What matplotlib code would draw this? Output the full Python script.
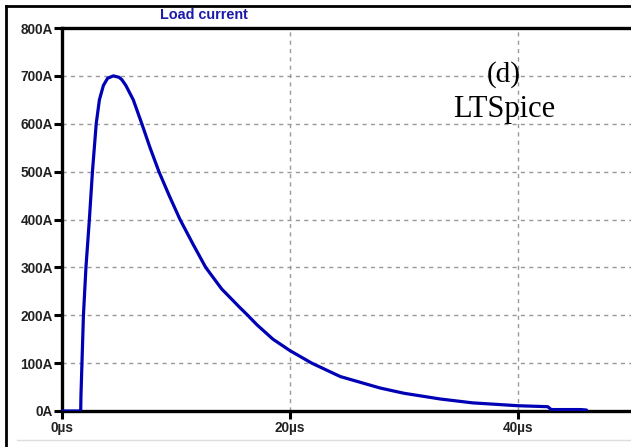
import numpy as np
import matplotlib.pyplot as plt
from matplotlib.lines import Line2D

# load current waveform
t_us = [0, 1.64, 1.66, 1.75, 1.88, 2.1, 2.4, 2.67, 3.0, 3.28, 3.63, 4.0, 4.5,
        5.0, 5.25, 5.6, 6.25, 7.0, 7.72, 8.5, 9.4, 10.35, 11.5, 12.6, 14.0,
        15.6, 16.2, 17.1, 18.5, 20.0, 21.9, 24.4, 27.9, 30.0, 33.2, 36.0,
        40.0, 42.6, 42.9, 45.5, 46.0]
i_amp = [0, 0, 30, 100, 200, 300, 400, 500, 600, 650, 680, 695, 700,
         697, 692, 680, 650, 600, 550, 500, 450, 400, 348, 300, 255,
         216, 202, 180, 150, 126, 100, 72, 48, 37, 25, 17,
         11, 9, 3, 3, 2]

yticks = [0, 100, 200, 300, 400, 500, 600, 700, 800]
ylabels = ['%dA' % v for v in yticks]
xticks = [0, 20, 40]
xlabels = ['%dµs' % v for v in xticks]

plt.rcParams['font.family'] = ['Liberation Sans', 'DejaVu Sans']

fig = plt.figure(figsize=(6.31, 4.47), dpi=100)
W, H = 631.0, 447.0
ax = fig.add_axes([62 / W, 1 - 411 / H, 1 - 62 / W, (411 - 28) / H])

ax.plot(t_us, i_amp, color='#0000b4', lw=2.3, solid_joinstyle='round',
        solid_capstyle='round', zorder=3)

ax.set_xlim(0, 49.9)
ax.set_ylim(0, 800)
ax.set_yticks(yticks)
ax.set_yticklabels(ylabels, fontweight='bold', fontsize=9.8, color='#222222')
ax.set_xticks(xticks)
ax.set_xticklabels(xlabels, fontweight='bold', fontsize=9.8, color='#222222')
ax.tick_params(axis='y', direction='out', length=6, width=2.2, color='black', pad=0.5)
ax.tick_params(axis='x', direction='out', length=5.5, width=2.2, color='black', pad=2)

for v in yticks[1:-1]:
    ax.axhline(v, color='#999999', lw=1, ls=(0, (3, 3)), zorder=1)
for v in xticks[1:]:
    ax.axvline(v, color='#999999', lw=1, ls=(0, (3, 3)), zorder=1)

for s in ['left', 'top', 'bottom']:
    ax.spines[s].set_linewidth(2.4)
    ax.spines[s].set_color('black')
ax.spines['right'].set_visible(False)

fig.text(504 / W, 1 - 75 / H, '(d)', ha='center', va='center',
         family='Liberation Serif', fontsize=21)
fig.text(504 / W, 1 - 110 / H, 'LTSpice', ha='center', va='center',
         family='Liberation Serif', fontsize=22)

fig.text(204 / W, 1 - 15 / H, 'Load current', ha='center', va='center',
         fontweight='bold', fontsize=10.4, color='#1c1ca8')

# window frame
fig.add_artist(Line2D([6 / W, 6 / W], [0, 1 - 6 / H], color='black', lw=2))
fig.add_artist(Line2D([6 / W, 1], [1 - 6 / H, 1 - 6 / H], color='black', lw=2))
fig.add_artist(Line2D([17 / W, 1], [1 - 440 / H, 1 - 440 / H], color='#dddddd', lw=1))

fig.savefig('out.png', dpi=100)
